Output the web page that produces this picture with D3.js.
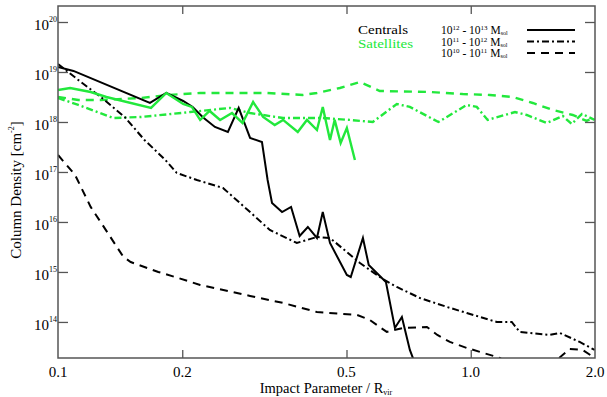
<!DOCTYPE html>
<html>
<head>
<meta charset="utf-8">
<script src="https://cdn.jsdelivr.net/npm/d3@7/dist/d3.min.js"></script>
<style>
  html, body { margin: 0; padding: 0; background: #fff; }
  svg { display: block; }
  text { font-family: "Liberation Serif", "Times New Roman", serif; fill: #000; }
</style>
</head>
<body>
<svg id="chart" width="607" height="397"></svg>
<script>
// Impact parameter (R / R_vir) and H I column density (cm^-2) profiles

// Centrals, 10^12 - 10^13 M_sol
const rCenHigh = [0.100, 0.109, 0.167, 0.183, 0.201, 0.212, 0.224, 0.240, 0.258, 0.274, 0.292, 0.312, 0.322, 0.330, 0.349, 0.367, 0.385, 0.403, 0.424, 0.438, 0.456, 0.501, 0.512, 0.548, 0.566, 0.609, 0.623, 0.655, 0.681, 0.712, 0.724, 0.753];
const nCenHigh = [1.26e19, 1.05e19, 2.4e18, 3.8e18, 2.63e18, 2.0e18, 1.26e18, 7.94e17, 6.31e17, 1.91e18, 4.79e17, 3.98e17, 6.92e16, 2.4e16, 1.58e16, 2.0e16, 5.25e15, 7.94e15, 4.79e15, 1.58e16, 3.8e15, 8.71e14, 7.94e14, 4.79e15, 1.38e15, 7.59e14, 6.31e14, 7.59e13, 1.26e14, 2.75e13, 1.91e13, 6.9e12];

// Centrals, 10^11 - 10^12 M_sol
const rCenMid = [0.100, 0.112, 0.127, 0.145, 0.162, 0.182, 0.194, 0.217, 0.251, 0.292, 0.326, 0.379, 0.424, 0.456, 0.539, 0.612, 0.662, 0.753, 0.875, 0.978, 1.156, 1.257, 1.314, 1.554, 1.643, 1.836, 1.996];
const nCenMid = [1.45e19, 6.92e18, 3.16e18, 1.26e18, 4.37e17, 1.74e17, 9.55e16, 6.92e16, 4.79e16, 1.58e16, 6.92e15, 3.8e15, 5.01e15, 4.79e15, 1.51e15, 7.24e14, 5.01e14, 3.02e14, 2.0e14, 1.51e14, 1.0e14, 1.0e14, 6.31e13, 5.5e13, 6.03e13, 3.98e13, 2.75e13];

// Centrals, 10^10 - 10^11 M_sol
const rCenLow = [0.100, 0.110, 0.120, 0.132, 0.144, 0.150, 0.175, 0.192, 0.221, 0.292, 0.351, 0.424, 0.530, 0.569, 0.626, 0.685, 0.783, 0.830, 0.890, 0.978, 1.176, 1.314, 1.500, 1.616, 1.737, 1.867, 1.996];
const nCenLow = [2.19e17, 8.71e16, 2.0e16, 6.03e15, 2.0e15, 1.58e15, 1.0e15, 7.94e14, 5.5e14, 3.31e14, 2.4e14, 1.58e14, 1.38e14, 1.10e14, 6.31e13, 7.59e13, 7.94e13, 5.5e13, 3.98e13, 3.02e13, 1.91e13, 1.0e13, 1.0e13, 1.74e13, 2.88e13, 2.75e13, 1.91e13];

// Satellites, 10^12 - 10^13 M_sol
const rSatHigh = [0.100, 0.107, 0.120, 0.131, 0.168, 0.183, 0.201, 0.211, 0.221, 0.233, 0.247, 0.264, 0.280, 0.297, 0.314, 0.335, 0.351, 0.381, 0.401, 0.424, 0.438, 0.456, 0.468, 0.484, 0.501, 0.524];
const nSatHigh = [4.37e18, 4.79e18, 3.98e18, 3.16e18, 1.91e18, 3.8e18, 2.29e18, 2.0e18, 1.10e18, 1.66e18, 1.10e18, 1.51e18, 9.55e17, 2.51e18, 1.26e18, 8.71e17, 1.10e18, 6.31e17, 1.10e18, 6.92e17, 2.0e18, 4.37e17, 1.10e18, 3.8e17, 7.59e17, 1.74e17];

// Satellites, 10^11 - 10^12 M_sol
const rSatMid = [0.100, 0.112, 0.136, 0.159, 0.209, 0.261, 0.292, 0.351, 0.438, 0.509, 0.579, 0.662, 0.712, 0.835, 0.978, 1.034, 1.099, 1.280, 1.366, 1.528, 1.671, 1.756, 1.860, 1.996];
const nSatMid = [3.02e18, 2.19e18, 1.20e18, 1.26e18, 1.58e18, 1.91e18, 1.51e18, 1.20e18, 1.20e18, 1.10e18, 1.0e18, 2.29e18, 2.0e18, 1.0e18, 2.19e18, 2.0e18, 1.10e18, 1.58e18, 1.38e18, 9.55e17, 1.32e18, 9.12e17, 1.45e18, 1.10e18];

// Satellites, 10^10 - 10^11 M_sol
const rSatLow = [0.100, 0.112, 0.127, 0.159, 0.185, 0.221, 0.321, 0.392, 0.424, 0.482, 0.539, 0.602, 0.796, 0.956, 1.112, 1.264, 1.413, 1.580, 1.766, 1.909, 1.996];
const nSatLow = [3.16e18, 2.75e18, 2.75e18, 3.02e18, 3.47e18, 3.8e18, 3.8e18, 3.47e18, 3.8e18, 4.79e18, 6.31e18, 4.17e18, 3.98e18, 3.63e18, 3.47e18, 3.16e18, 2.4e18, 1.74e18, 1.38e18, 1.05e18, 1.26e18];

// Axis ticks
const xTicks = [0.1, 0.2, 0.5, 1.0, 2.0];
const xTickLabels = ["0.1", "0.2", "0.5", "1.0", "2.0"];
const yTickExps = [14, 15, 16, 17, 18, 19, 20];

// Legend
const groupNames = ["Centrals", "Satellites"];
const massLo = ["12", "11", "10"];
const massHi = ["13", "12", "11"];

const GREEN = "#22e83c";
const BLACK = "#000";
const styles = {
  high: { dash: null, width: 2 },
  mid:  { dash: "7,3,2,3", width: 2 },
  low:  { dash: "8,6", width: 2 }
};

const series = [
  { r: rSatLow,  n: nSatLow,  color: GREEN, s: styles.low },
  { r: rSatMid,  n: nSatMid,  color: GREEN, s: styles.mid },
  { r: rCenLow,  n: nCenLow,  color: BLACK, s: styles.low },
  { r: rCenMid,  n: nCenMid,  color: BLACK, s: styles.mid },
  { r: rCenHigh, n: nCenHigh, color: BLACK, s: styles.high },
  { r: rSatHigh, n: nSatHigh, color: GREEN, s: styles.high }
];

const svg = d3.select("#chart");
const L = 58, R = 595, T = 6, B = 358;

const x = d3.scaleLog().domain([0.1, 2.0]).range([L, R]);
const y = d3.scaleLog().domain([1.9e13, 2.09e20]).range([B, T]);

svg.append("defs").append("clipPath").attr("id", "plotClip")
  .append("rect").attr("x", L).attr("y", T).attr("width", R - L).attr("height", B - T);

const line = d3.line().x(d => x(d[0])).y(d => y(d[1]));

const plot = svg.append("g").attr("clip-path", "url(#plotClip)");
series.forEach(sr => {
  const pts = sr.r.map((r, i) => [r, sr.n[i]]);
  plot.append("path")
    .attr("d", line(pts))
    .attr("fill", "none")
    .attr("stroke", sr.color)
    .attr("stroke-width", sr.color === GREEN ? sr.s.width + 0.4 : sr.s.width)
    .attr("stroke-dasharray", sr.s.dash)
    .attr("stroke-linejoin", "miter");
});

// Frame and inward ticks
const frameColor = "#555";
const axisStyle = g => {
  g.select(".domain").remove();
  g.selectAll(".tick line").attr("stroke", frameColor).attr("stroke-width", 1.3);
};
svg.append("g").attr("transform", `translate(0,${B})`)
  .call(d3.axisBottom(x).tickValues(xTicks.slice(1, -1)).tickSize(-8).tickFormat(""))
  .call(axisStyle);
svg.append("g").attr("transform", `translate(0,${T})`)
  .call(d3.axisTop(x).tickValues(xTicks.slice(1, -1)).tickSize(-8).tickFormat(""))
  .call(axisStyle);
const yTickVals = yTickExps.map(e => Math.pow(10, e));
svg.append("g").attr("transform", `translate(${L},0)`)
  .call(d3.axisLeft(y).tickValues(yTickVals).tickSize(-10).tickFormat(""))
  .call(axisStyle);
svg.append("g").attr("transform", `translate(${R},0)`)
  .call(d3.axisRight(y).tickValues(yTickVals).tickSize(-10).tickFormat(""))
  .call(axisStyle);

svg.append("rect").attr("x", L).attr("y", T).attr("width", R - L).attr("height", B - T)
  .attr("fill", "none").attr("stroke", frameColor).attr("stroke-width", 1.5);

// X tick labels
svg.append("g").selectAll("text").data(xTicks).join("text")
  .attr("x", d => x(d)).attr("y", 377)
  .attr("text-anchor", "middle").attr("font-size", 15)
  .text((d, i) => xTickLabels[i]);

// Y tick labels: 10 with superscript exponent
const yl = svg.append("g").selectAll("text").data(yTickExps).join("text")
  .attr("x", L - 1).attr("y", d => y(Math.pow(10, d)) + 8)
  .attr("text-anchor", "end").attr("font-size", 15);
yl.append("tspan").text("10");
yl.append("tspan").attr("font-size", 8).attr("dy", -8).text(d => d);

// Axis titles
const xt = svg.append("text").attr("x", 326).attr("y", 393)
  .attr("text-anchor", "middle").attr("font-size", 14.5);
xt.append("tspan").text("Impact Parameter / R");
xt.append("tspan").attr("font-size", 8).attr("dy", 2).text("vir");

const ytl = svg.append("text")
  .attr("transform", "translate(21,190) rotate(-90)")
  .attr("text-anchor", "middle").attr("font-size", 15);
ytl.append("tspan").text("Column Density [cm");
ytl.append("tspan").attr("font-size", 8).attr("dy", -7).text("-2");
ytl.append("tspan").attr("dy", 7).text("]");

// Legend: sample groups
svg.append("g").selectAll("text").data(groupNames).join("text")
  .attr("x", 358).attr("y", (d, i) => 33.5 + i * 14.5)
  .attr("font-size", 13)
  .attr("textLength", (d, i) => i === 0 ? 50 : 55)
  .attr("lengthAdjust", "spacingAndGlyphs")
  .style("fill", (d, i) => i === 0 ? BLACK : GREEN)
  .text(d => d);

// Legend: halo mass bins with line styles
const legStyles = [styles.high, styles.mid, styles.low];
massLo.forEach((lo, i) => {
  const yb = 34 + i * 11.5;
  const t = svg.append("text").attr("x", 441).attr("y", yb).attr("font-size", 11.5);
  t.append("tspan").text("10");
  t.append("tspan").attr("font-size", 7).attr("dy", -4).text(lo);
  t.append("tspan").attr("dy", 4).text(" - 10");
  t.append("tspan").attr("font-size", 7).attr("dy", -4).text(massHi[i]);
  t.append("tspan").attr("dy", 4).text(" M");
  t.append("tspan").attr("font-size", 6).attr("dy", 1).text("sol");
  svg.append("line")
    .attr("x1", 527).attr("x2", 575).attr("y1", yb - 4).attr("y2", yb - 4)
    .attr("stroke", BLACK).attr("stroke-width", 2)
    .attr("stroke-dasharray", legStyles[i].dash);
});
</script>
</body>
</html>
